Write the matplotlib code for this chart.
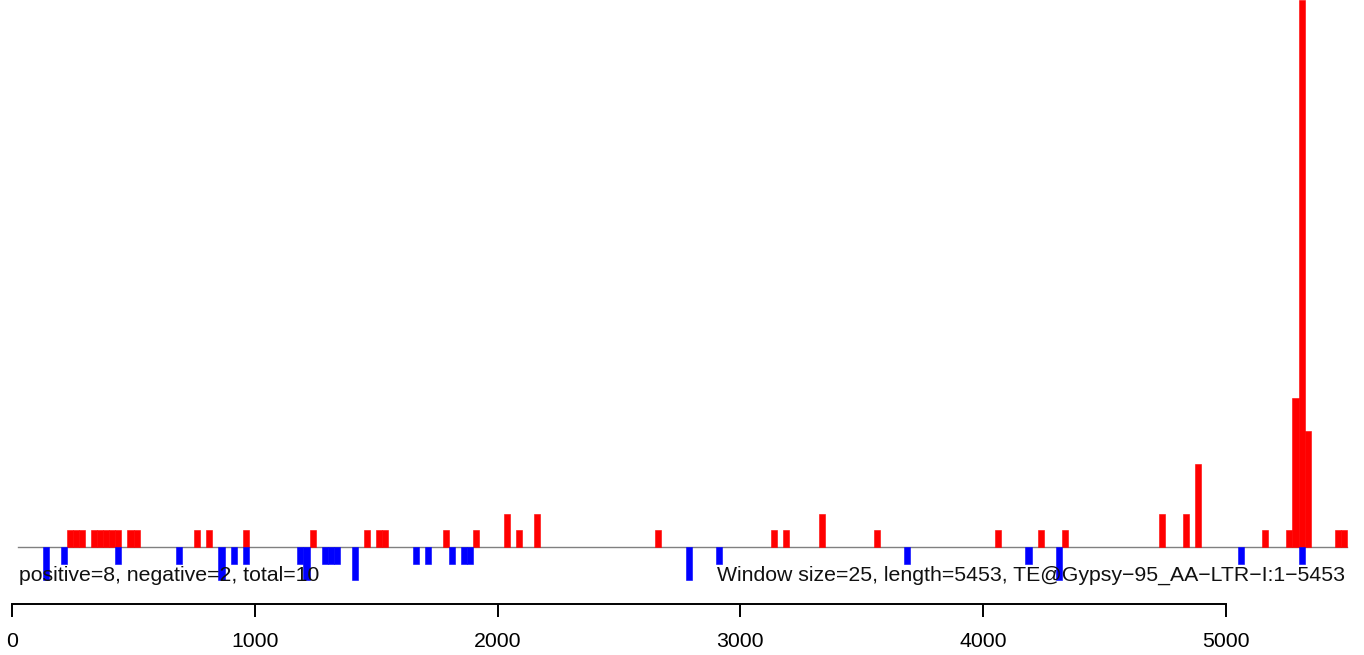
import matplotlib
matplotlib.use("Agg")
import matplotlib.pyplot as plt
import numpy as np

plt.rcParams['font.family'] = ['Liberation Sans', 'DejaVu Sans']

window_size = 25
seq_length = 5453

# window indices (start = index * window_size) and counts
pos_windows = [9, 10, 11, 13, 14, 15, 16, 17, 19, 20, 30, 32, 38, 49, 58, 60, 61, 71, 76,
               81, 83, 86, 106, 125, 127, 133, 142, 162, 169, 173, 189, 193, 195, 206,
               210, 211, 212, 213, 218, 219]
pos_counts = [1, 1, 1, 1, 1, 1, 1, 1, 1, 1, 1, 1, 1, 1, 1, 1, 1, 1, 1,
              2, 1, 2, 1, 1, 1, 2, 1, 1, 1, 1, 2, 2, 5, 1,
              1, 9, 33, 7, 1, 1]

neg_windows = [5, 8, 17, 27, 34, 36, 38, 47, 48, 51, 52, 53, 56, 66, 68, 72, 74, 75,
               111, 116, 147, 167, 172, 202, 212]
neg_counts = [2, 1, 1, 1, 2, 1, 1, 1, 2, 1, 1, 1, 2, 1, 1, 1, 1, 1,
              2, 1, 1, 1, 2, 1, 1]

xticks = [0, 1000, 2000, 3000, 4000, 5000]
left_label = "positive=8, negative=2, total=10"
right_label = "Window size=25, length=5453, TE@Gypsy\u221295_AA\u2212LTR\u2212I:1\u22125453"

W, H = 1364, 655
fig = plt.figure(figsize=(W / 100, H / 100), dpi=100)
ax_bottom_px = 604
ax = fig.add_axes([0, (H - ax_bottom_px) / H, 1, ax_bottom_px / H])

px_per_unit = 0.2427
x0_px = 12.2
ax.set_xlim(-x0_px / px_per_unit, (W - x0_px) / px_per_unit)
unit_px = 16.6
baseline_px = 547
ax.set_ylim(-(ax_bottom_px - baseline_px) / unit_px, 33)

pw = np.array(pos_windows) * window_size
nw = np.array(neg_windows) * window_size
ax.bar(pw, pos_counts, width=window_size, align='edge', color='#ff0000',
       edgecolor='#ff0000', linewidth=0.4, zorder=2)
ax.bar(nw, -np.array(neg_counts), width=window_size, align='edge', color='#0000ff',
       edgecolor='#0000ff', linewidth=0.4, zorder=2)

ax.plot([window_size, (max(pos_windows) + 1) * window_size], [0, 0], color='#808080',
        lw=1.0, zorder=1)

ax.text(27, -2.05, left_label, ha='left', va='baseline', fontsize=15.3, color='#111111',
        zorder=3)
ax.text(5490, -2.05, right_label, ha='right', va='baseline', fontsize=15.3,
        color='#111111', zorder=3)

for s in ['top', 'right', 'left']:
    ax.spines[s].set_visible(False)
ax.spines['bottom'].set_bounds(0, 5000)
ax.spines['bottom'].set_linewidth(1.4)
ax.set_xticks(xticks)
ax.set_xticklabels([str(t) for t in xticks], fontsize=15.3)
ax.tick_params(axis='x', direction='out', length=9, width=1.4, pad=11)
ax.set_yticks([])
ax.patch.set_alpha(0)

fig.savefig("out.png", dpi=100)
